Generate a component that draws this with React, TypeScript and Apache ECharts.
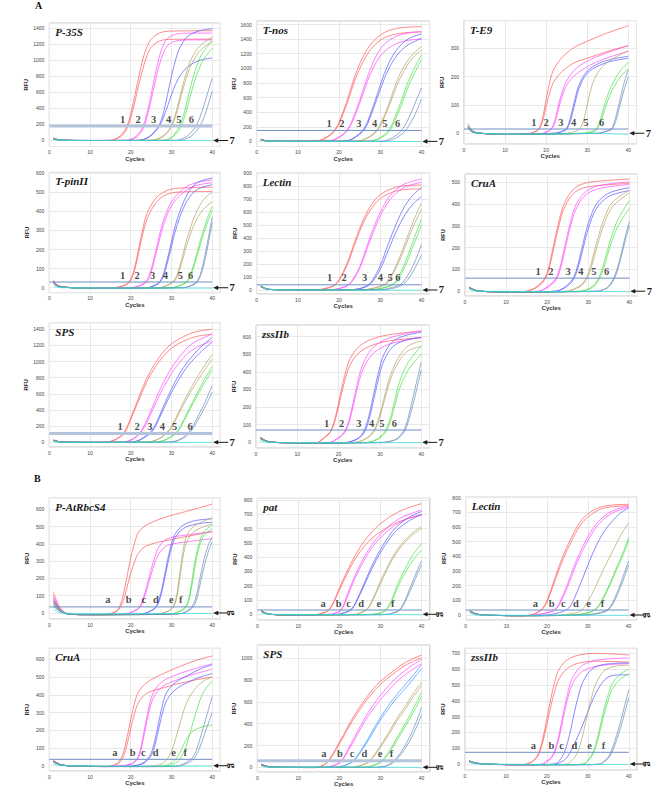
import React, { useEffect, useRef } from "react";
import * as echarts from "echarts";

type Pt = [number, number];
type Curve = Pt[];

// ---------------- DATA ----------------
const NUM_TAGS = ["1", "2", "3", "4", "5", "6", "7"];
const LET_TAGS = ["a", "b", "c", "d", "e", "f", "g"];

const PANEL_TITLES = ["P-35S", "T-nos", "T-E9", "T-pinII", "Lectin", "CruA", "SPS", "zssIIb",
  "P-AtRbcS4", "pat", "Lectin", "CruA", "SPS", "zssIIb"];
const THRESHOLDS = [180, 150, 15, 30, 40, 60, 110, 70, 35, 30, 34, 36, 60, 74];
// axis extents [min, max, step]
const Y_RANGES: [number, number, number][] = [
  [-75, 1466, 200], [-70, 1648, 200], [-38, 398, 100],
  [-26, 605, 100], [-31, 905, 100], [-22, 538, 100],
  [-58, 1482, 200], [-32, 666, 100],
  [-35, 667, 100], [-40, 812, 100], [-34, 807, 100],
  [-30, 663, 100], [-43, 1122, 200], [-38, 732, 100],
];
// cycle where each tag label (1..6 / a..f) sits
const TAG_X = [
  [18.0, 21.8, 25.6, 29.3, 31.8, 34.9],
  [17.6, 20.7, 24.8, 28.6, 31.1, 34.2],
  [17.0, 20.0, 23.6, 26.7, 29.7, 33.5],
  [18.0, 21.6, 25.4, 28.5, 32.2, 34.7],
  [17.7, 21.2, 26.2, 30.0, 32.4, 34.3],
  [17.8, 20.9, 25.1, 28.2, 31.4, 34.5],
  [17.4, 21.6, 24.7, 27.8, 30.8, 34.6],
  [17.1, 20.7, 24.9, 28.0, 30.5, 33.5],
  [14.4, 19.5, 23.2, 26.2, 30.0, 32.3],
  [16.0, 19.8, 22.2, 25.3, 29.6, 33.0],
  [17.1, 21.1, 24.0, 27.1, 30.2, 33.6],
  [16.1, 20.5, 23.1, 26.1, 30.5, 33.4],
  [16.2, 20.1, 23.1, 26.1, 29.9, 32.7],
  [16.7, 21.1, 23.6, 26.7, 30.4, 33.8],
];

// Each panel: groups 1..7 (a..g), each group = replicate curves of [cycle, RFU]
const P35S: Curve[][] = [
  [[[1,30],[3,4],[10,0],[15,2],[17,40],[18,90],[19,170],[20,330],[21,560],[22,800],[23,1020],[24,1170],[25,1260],[27,1340],[30,1365],[40,1370]],
   [[1,25],[3,3],[10,0],[15,2],[17,30],[18,70],[19,140],[20,280],[21,480],[22,700],[23,900],[24,1060],[25,1160],[27,1240],[30,1262],[40,1265]]],
  [[[1,30],[3,4],[10,0],[19,2],[21,40],[22,90],[23,175],[24,340],[25,570],[26,820],[27,1040],[28,1190],[29,1270],[31,1325],[35,1340],[40,1340]],
   [[1,25],[3,3],[10,0],[19,1],[21,30],[22,70],[23,140],[24,290],[25,500],[26,730],[27,940],[28,1090],[29,1180],[31,1240],[35,1255],[40,1255]]],
  [[[1,25],[3,3],[10,0],[22,2],[24,30],[25,70],[26,120],[27,190],[28,340],[29,560],[30,800],[31,1000],[32,1150],[34,1300],[37,1370],[40,1395]],
   [[1,25],[3,3],[10,0],[22,2],[24,30],[25,60],[26,110],[27,175],[28,280],[29,420],[30,570],[31,700],[32,800],[34,920],[37,1000],[40,1030]]],
  [[[1,20],[3,3],[10,0],[25,2],[27,30],[28,60],[29,110],[30,190],[31,330],[32,530],[33,730],[34,900],[35,1030],[37,1180],[40,1290]],
   [[1,20],[3,3],[10,0],[25,2],[27,25],[28,50],[29,95],[30,170],[31,300],[32,480],[33,670],[34,830],[35,960],[37,1120],[40,1240]]],
  [[[1,20],[3,3],[10,0],[28,2],[30,40],[31,100],[32,175],[33,320],[34,520],[35,730],[36,900],[37,1030],[38,1120],[40,1240]],
   [[1,20],[3,3],[10,0],[28,2],[30,30],[31,75],[32,140],[33,260],[34,430],[35,620],[36,790],[37,920],[38,1020],[40,1150]]],
  [[[1,20],[3,3],[10,0],[31,2],[33,30],[34,60],[35,110],[36,175],[37,290],[38,440],[39,610],[40,780]],
   [[1,20],[3,3],[10,0],[32,2],[34,30],[35,60],[36,110],[37,180],[38,290],[39,440],[40,620]]],
  [[[1,10],[3,0],[20,0],[40,-2]]],
];

const TNOS: Curve[][] = [
  [[[1,30],[3,4],[14,2],[16,30],[18,100],[19,160],[20,260],[22,570],[24,920],[26,1180],[28,1350],[31,1490],[35,1555],[40,1570]],
   [[1,28],[3,4],[14,2],[16,25],[18,90],[19,150],[20,240],[22,530],[24,860],[26,1110],[28,1280],[31,1420],[35,1480],[40,1500]]],
  [[[1,28],[3,4],[17,2],[19,30],[21,100],[22,160],[23,260],[25,560],[27,900],[29,1170],[31,1330],[34,1440],[37,1485],[40,1500]],
   [[1,28],[3,4],[17,2],[19,25],[21,90],[22,145],[23,240],[25,520],[27,840],[29,1080],[31,1230],[34,1340],[37,1385],[40,1400]]],
  [[[1,25],[3,3],[21,2],[23,30],[25,110],[26,170],[27,280],[29,600],[31,930],[33,1170],[35,1320],[37,1410],[40,1470]],
   [[1,25],[3,3],[21,2],[23,25],[25,95],[26,150],[27,250],[29,550],[31,860],[33,1090],[35,1240],[37,1330],[40,1410]]],
  [[[1,20],[3,3],[24,2],[26,25],[28,90],[29,145],[30,230],[32,500],[34,820],[36,1050],[38,1200],[40,1300]],
   [[1,20],[3,3],[24,2],[26,20],[28,80],[29,130],[30,210],[32,460],[34,760],[36,990],[38,1150],[40,1250]]],
  [[[1,20],[3,3],[27,2],[29,25],[31,90],[32,150],[33,250],[35,540],[37,850],[39,1080],[40,1180]],
   [[1,20],[3,3],[27,2],[29,20],[31,75],[32,125],[33,215],[35,480],[37,780],[39,1010],[40,1120]]],
  [[[1,20],[3,3],[30,2],[32,25],[34,90],[35,140],[36,220],[37,330],[38,460],[39,600],[40,730]],
   [[1,20],[3,3],[31,2],[33,25],[35,90],[36,140],[37,220],[38,320],[39,440],[40,580]]],
  [[[1,15],[3,0],[40,-2]]],
];

const TE9: Curve[][] = [
  [[[1,30],[2,10],[4,0],[10,-4],[16,-1],[17,5],[18,12],[19,45],[20,120],[21,190],[22,230],[24,270],[27,305],[30,325],[34,350],[40,380]],
   [[1,25],[2,8],[4,0],[10,-4],[16,-1],[17,4],[18,10],[19,35],[20,95],[21,150],[22,185],[24,220],[27,250],[30,265],[34,285],[40,310]]],
  [[[1,25],[2,8],[4,0],[10,-4],[19,-1],[20,5],[21,12],[22,40],[23,100],[24,150],[25,185],[27,225],[30,255],[34,280],[40,310]],
   [[1,20],[2,6],[4,0],[10,-4],[19,-1],[20,4],[21,10],[22,32],[23,85],[24,135],[25,170],[27,205],[30,235],[34,262],[40,290]]],
  [[[1,20],[2,6],[4,0],[10,-4],[22,0],[23,3],[24,8],[25,18],[26,60],[27,120],[28,170],[30,220],[33,248],[36,262],[40,272]],
   [[1,20],[2,6],[4,0],[10,-4],[22,0],[23,2],[24,6],[25,14],[26,48],[27,105],[28,158],[30,212],[33,240],[36,255],[40,265]]],
  [[[1,20],[2,6],[4,0],[10,-4],[25,0],[27,6],[28,13],[29,40],[30,100],[31,160],[32,200],[34,240],[37,270],[40,290]]],
  [[[1,20],[2,6],[4,0],[10,-4],[29,0],[31,6],[32,13],[33,40],[34,90],[35,135],[36,170],[38,220],[40,250]],
   [[1,18],[2,5],[4,0],[10,-4],[29,0],[31,4],[32,9],[33,30],[34,72],[35,115],[36,150],[38,198],[40,228]]],
  [[[1,18],[2,5],[4,0],[10,-4],[33,0],[34,5],[35,10],[36,18],[37,60],[38,120],[39,180],[40,225]],
   [[1,18],[2,5],[4,0],[10,-4],[33,0],[34,4],[35,8],[36,14],[37,45],[38,100],[39,155],[40,200]]],
  [[[1,35],[2,10],[4,0],[15,-3],[25,-2],[32,0],[36,-2],[40,-4]]],
];

const TPINII: Curve[][] = [
  [[[1,40],[2,15],[4,3],[10,-3],[16,0],[18,10],[19,20],[20,45],[21,110],[22,210],[23,310],[24,390],[26,465],[28,500],[31,520],[40,527]],
   [[1,35],[2,12],[4,3],[10,-3],[16,0],[18,8],[19,16],[20,38],[21,95],[22,190],[23,285],[24,360],[26,440],[28,480],[31,500],[40,505]]],
  [[[1,35],[2,12],[4,3],[10,-3],[20,0],[22,10],[23,20],[24,40],[25,95],[26,180],[27,270],[28,350],[30,450],[33,520],[36,550],[40,565]],
   [[1,32],[2,11],[4,3],[10,-3],[20,0],[22,8],[23,16],[24,32],[25,80],[26,160],[27,245],[28,325],[30,430],[33,500],[36,535],[40,550]]],
  [[[1,30],[2,10],[4,2],[10,-3],[24,0],[26,15],[27,28],[28,70],[29,150],[30,240],[31,330],[33,450],[35,525],[37,558],[40,575]],
   [[1,30],[2,10],[4,2],[10,-3],[24,0],[26,12],[27,24],[28,60],[29,130],[30,215],[31,300],[33,420],[35,490],[37,522],[40,540]]],
  [[[1,28],[2,10],[4,2],[10,-3],[27,0],[29,15],[30,25],[31,50],[32,110],[33,190],[34,270],[36,390],[38,465],[40,500]],
   [[1,28],[2,10],[4,2],[10,-3],[27,0],[29,12],[30,22],[31,42],[32,95],[33,165],[34,240],[36,350],[38,415],[40,450]]],
  [[[1,28],[2,10],[4,2],[10,-3],[30,0],[32,12],[33,22],[34,40],[35,90],[36,160],[37,240],[38,310],[39,375],[40,425]],
   [[1,25],[2,9],[4,2],[10,-3],[30,0],[32,10],[33,18],[34,34],[35,80],[36,145],[37,220],[38,290],[39,350],[40,405]]],
  [[[1,25],[2,9],[4,2],[10,-3],[33,0],[35,15],[36,27],[37,65],[38,145],[39,255],[40,370]],
   [[1,25],[2,9],[4,2],[10,-3],[33,0],[35,12],[36,22],[37,55],[38,125],[39,225],[40,340]]],
  [[[1,10],[3,0],[40,-2]]],
];

const LECTIN_A: Curve[][] = [
  [[[1,30],[3,5],[10,0],[15,2],[17,15],[18,25],[19,42],[20,80],[22,210],[24,390],[26,550],[28,665],[30,735],[33,785],[36,805],[40,810]],
   [[1,28],[3,5],[10,0],[15,2],[17,12],[18,22],[19,38],[20,72],[22,195],[24,370],[26,525],[28,635],[30,705],[33,755],[36,775],[40,780]]],
  [[[1,28],[3,5],[10,0],[18,2],[20,12],[21,22],[22,36],[23,65],[25,180],[27,360],[29,530],[31,660],[33,750],[36,820],[40,855]],
   [[1,28],[3,5],[10,0],[18,2],[20,10],[21,19],[22,32],[23,58],[25,165],[27,335],[29,500],[31,630],[33,720],[36,795],[40,830]]],
  [[[1,25],[3,4],[10,0],[23,2],[25,12],[26,22],[27,38],[28,70],[30,190],[32,360],[34,520],[36,650],[38,735],[40,790]],
   [[1,25],[3,4],[10,0],[23,2],[25,10],[26,18],[27,32],[28,58],[30,160],[32,310],[34,460],[36,580],[38,665],[40,720]]],
  [[[1,25],[3,4],[10,0],[26,2],[28,12],[29,20],[30,30],[31,44],[32,75],[34,200],[36,360],[38,530],[40,670]],
   [[1,25],[3,4],[10,0],[26,2],[28,10],[29,17],[30,26],[31,38],[32,65],[34,180],[36,330],[38,490],[40,620]]],
  [[[1,25],[3,4],[10,0],[28,2],[30,12],[31,20],[32,30],[33,45],[34,78],[36,210],[38,380],[40,550]],
   [[1,25],[3,4],[10,0],[28,2],[30,10],[31,17],[32,26],[33,38],[34,65],[36,180],[38,340],[40,500]]],
  [[[1,25],[3,4],[10,0],[30,2],[32,12],[33,20],[34,30],[35,45],[36,80],[37,130],[38,190],[39,265],[40,350]],
   [[1,25],[3,4],[10,0],[31,2],[33,12],[34,20],[35,32],[36,55],[37,95],[38,145],[39,205],[40,270]]],
  [[[1,45],[2,15],[4,3],[10,0],[40,-2]]],
];

const CRUA_A: Curve[][] = [
  [[[1,20],[3,2],[8,-3],[13,-4],[15,0],[17,15],[18,30],[19,48],[20,85],[21,160],[22,250],[23,330],[24,395],[26,460],[28,488],[31,502],[40,515]],
   [[1,18],[3,2],[8,-3],[13,-4],[15,0],[17,12],[18,25],[19,42],[20,75],[21,145],[22,230],[23,310],[24,375],[26,440],[28,468],[31,482],[40,495]]],
  [[[1,18],[3,2],[8,-3],[13,-4],[18,0],[20,20],[21,35],[22,55],[23,100],[24,180],[25,265],[26,340],[27,395],[29,450],[32,482],[40,502]],
   [[1,18],[3,2],[8,-3],[13,-4],[18,0],[20,16],[21,30],[22,48],[23,88],[24,162],[25,245],[26,320],[27,375],[29,435],[32,468],[40,490]]],
  [[[1,15],[3,2],[8,-3],[13,-4],[22,0],[24,15],[25,30],[26,50],[27,90],[28,160],[29,240],[30,310],[32,400],[35,450],[40,475]],
   [[1,15],[3,2],[8,-3],[13,-4],[22,0],[24,12],[25,25],[26,42],[27,78],[28,140],[29,215],[30,285],[32,380],[35,435],[40,462]]],
  [[[1,15],[3,2],[8,-3],[13,-4],[25,0],[27,15],[28,25],[29,45],[30,80],[31,145],[32,220],[34,340],[36,410],[40,462]],
   [[1,15],[3,2],[8,-3],[13,-4],[25,0],[27,12],[28,21],[29,38],[30,68],[31,125],[32,195],[34,315],[36,390],[40,450]]],
  [[[1,15],[3,2],[8,-3],[13,-4],[28,0],[30,10],[31,22],[32,42],[33,80],[34,140],[35,210],[37,320],[40,415]],
   [[1,15],[3,2],[8,-3],[13,-4],[28,0],[30,8],[31,18],[32,35],[33,68],[34,120],[35,185],[37,290],[40,380]]],
  [[[1,15],[3,2],[8,-3],[13,-4],[32,0],[34,10],[35,25],[36,52],[37,100],[38,170],[39,250],[40,320]],
   [[1,15],[3,2],[8,-3],[13,-4],[32,0],[34,8],[35,20],[36,44],[37,88],[38,155],[39,230],[40,300]]],
  [[[1,10],[3,0],[40,-2]]],
];

const SPS_A: Curve[][] = [
  [[[1,30],[3,4],[10,0],[14,2],[16,30],[17,60],[18,95],[19,180],[20,300],[22,560],[24,800],[26,980],[28,1120],[30,1220],[33,1310],[36,1370],[40,1400]],
   [[1,28],[3,4],[10,0],[14,2],[16,25],[17,52],[18,88],[19,165],[20,280],[22,525],[24,755],[26,930],[28,1065],[30,1165],[33,1255],[36,1310],[40,1340]]],
  [[[1,28],[3,4],[10,0],[18,2],[20,30],[21,60],[22,105],[23,180],[24,280],[26,520],[28,740],[30,920],[32,1060],[35,1220],[40,1340]],
   [[1,28],[3,4],[10,0],[18,2],[20,25],[21,52],[22,92],[23,160],[24,250],[26,470],[28,675],[30,850],[32,990],[35,1140],[40,1260]]],
  [[[1,25],[3,4],[10,0],[20,2],[22,25],[23,55],[24,90],[25,135],[26,210],[28,440],[30,660],[32,850],[34,1000],[37,1170],[40,1300]],
   [[1,25],[3,4],[10,0],[20,2],[22,22],[23,48],[24,80],[25,120],[26,190],[28,405],[30,615],[32,795],[34,945],[37,1110],[40,1240]]],
  [[[1,25],[3,4],[10,0],[24,2],[26,25],[27,50],[28,85],[29,130],[30,200],[32,400],[34,600],[36,780],[38,940],[40,1090]],
   [[1,25],[3,4],[10,0],[24,2],[26,22],[27,44],[28,76],[29,118],[30,182],[32,370],[34,560],[36,730],[38,885],[40,1030]]],
  [[[1,22],[3,3],[10,0],[26,2],[28,22],[29,45],[30,75],[31,115],[32,180],[34,380],[36,580],[38,770],[40,940]],
   [[1,22],[3,3],[10,0],[26,2],[28,20],[29,40],[30,68],[31,104],[32,165],[34,355],[36,545],[38,725],[40,895]]],
  [[[1,22],[3,3],[10,0],[29,2],[31,15],[32,35],[33,65],[34,110],[35,180],[36,270],[37,370],[38,470],[39,585],[40,700]],
   [[1,22],[3,3],[10,0],[29,2],[31,12],[32,30],[33,55],[34,92],[35,150],[36,230],[37,320],[38,415],[39,515],[40,620]]],
  [[[1,10],[3,0],[40,0]]],
];

const ZSSIIB_A: Curve[][] = [
  [[[1,30],[3,5],[8,-3],[13,-5],[15,0],[16,18],[17,38],[18,62],[19,125],[20,225],[21,335],[22,425],[23,485],[25,545],[28,585],[32,610],[40,632]],
   [[1,28],[3,5],[8,-3],[13,-5],[15,0],[16,15],[17,33],[18,56],[19,112],[20,205],[21,305],[22,390],[23,450],[25,510],[28,550],[32,575],[40,595]]],
  [[[1,28],[3,5],[8,-3],[13,-5],[18,0],[19,12],[20,28],[21,48],[22,88],[23,170],[24,280],[25,380],[26,450],[28,530],[31,580],[35,610],[40,632]],
   [[1,28],[3,5],[8,-3],[13,-5],[18,0],[19,10],[20,24],[21,42],[22,78],[23,152],[24,255],[25,350],[26,418],[28,495],[31,545],[35,575],[40,595]]],
  [[[1,25],[3,4],[8,-3],[13,-5],[22,0],[24,15],[25,30],[26,58],[27,120],[28,220],[29,330],[30,430],[31,500],[33,570],[36,605],[40,625]],
   [[1,25],[3,4],[8,-3],[13,-5],[22,0],[24,12],[25,25],[26,48],[27,100],[28,190],[29,295],[30,395],[31,465],[33,540],[36,578],[40,595]]],
  [[[1,25],[3,4],[8,-3],[13,-5],[24,0],[26,15],[27,30],[28,50],[29,90],[30,160],[31,250],[32,340],[33,410],[35,500],[37,550],[40,575]],
   [[1,25],[3,4],[8,-3],[13,-5],[24,0],[26,12],[27,26],[28,44],[29,80],[30,145],[31,230],[32,315],[33,385],[35,475],[37,522],[40,545]]],
  [[[1,22],[3,4],[8,-3],[13,-5],[27,0],[29,15],[30,30],[31,55],[32,100],[33,180],[34,280],[35,360],[37,460],[40,545]],
   [[1,22],[3,4],[8,-3],[13,-5],[27,0],[29,12],[30,25],[31,46],[32,85],[33,155],[34,245],[35,320],[37,415],[40,500]]],
  [[[1,22],[3,4],[8,-3],[13,-5],[31,0],[33,10],[34,20],[35,42],[36,78],[37,155],[38,255],[39,355],[40,455]],
   [[1,22],[3,4],[8,-3],[13,-5],[31,0],[33,8],[34,16],[35,34],[36,64],[37,128],[38,215],[39,310],[40,410]]],
  [[[1,10],[3,0],[40,-2]]],
];

const P_ATRBCS4: Curve[][] = [
  [[[1,120],[2,60],[3,20],[5,-8],[10,-10],[14,-8],[16,5],[17,25],[18,90],[19,200],[20,320],[21,410],[22,470],[24,510],[28,550],[34,590],[40,630]],
   [[1,80],[2,40],[3,12],[5,-8],[10,-10],[14,-8],[16,2],[17,18],[18,60],[19,140],[20,230],[21,300],[22,350],[24,390],[30,425],[40,470]]],
  [[[1,100],[2,50],[3,15],[5,-8],[10,-10],[18,-8],[20,2],[21,15],[22,30],[23,80],[24,160],[25,250],[26,330],[27,385],[29,430],[34,452],[40,470]],
   [[1,90],[2,45],[3,14],[5,-8],[10,-10],[18,-8],[20,0],[21,12],[22,26],[23,68],[24,140],[25,220],[26,295],[27,345],[29,390],[34,412],[40,430]]],
  [[[1,70],[2,35],[3,10],[5,-8],[10,-10],[22,-8],[24,2],[25,15],[26,30],[27,80],[28,180],[29,300],[30,400],[31,460],[33,510],[36,535],[40,545]],
   [[1,70],[2,35],[3,10],[5,-8],[10,-10],[22,-8],[24,0],[25,12],[26,26],[27,68],[28,160],[29,275],[30,375],[31,438],[33,490],[36,514],[40,525]]],
  [[[1,60],[2,30],[3,8],[5,-8],[10,-10],[26,-8],[28,0],[29,10],[30,25],[31,70],[32,220],[33,380],[34,460],[36,510],[40,550]],
   [[1,60],[2,30],[3,8],[5,-8],[10,-10],[26,-8],[28,0],[29,8],[30,22],[31,60],[32,190],[33,345],[34,425],[36,478],[40,515]]],
  [[[1,50],[2,25],[3,8],[5,-8],[10,-10],[29,-8],[31,0],[32,10],[33,25],[34,60],[35,180],[36,330],[37,420],[38,470],[40,510]],
   [[1,50],[2,25],[3,8],[5,-8],[10,-10],[29,-8],[31,0],[32,8],[33,20],[34,50],[35,155],[36,300],[37,395],[38,448],[40,490]]],
  [[[1,40],[2,20],[3,6],[5,-8],[10,-10],[30,-8],[33,0],[34,15],[35,35],[36,90],[37,200],[38,310],[39,390],[40,440]],
   [[1,40],[2,20],[3,6],[5,-8],[10,-10],[31,-8],[33,0],[34,10],[35,25],[36,65],[37,160],[38,265],[39,350],[40,410]]],
  [[[1,20],[3,0],[10,-3],[40,-3]]],
];

const PAT: Curve[][] = [
  [[[1,25],[3,0],[8,-5],[14,-3],[16,10],[17,22],[18,55],[19,115],[20,185],[22,310],[24,420],[26,510],[28,580],[30,635],[33,695],[36,738],[40,775]],
   [[1,25],[3,0],[8,-5],[14,-3],[16,8],[17,20],[18,50],[19,105],[20,170],[22,290],[24,395],[26,475],[28,535],[30,578],[33,628],[36,665],[40,695]]],
  [[[1,25],[3,0],[8,-5],[14,-3],[18,0],[19,10],[20,22],[21,65],[22,145],[24,285],[26,400],[28,490],[30,560],[33,640],[36,690],[40,730]],
   [[1,25],[3,0],[8,-5],[14,-3],[18,0],[19,8],[20,18],[21,55],[22,128],[24,265],[26,378],[28,468],[30,538],[33,612],[36,662],[40,700]]],
  [[[1,22],[3,0],[8,-5],[16,-3],[20,0],[21,10],[22,20],[23,40],[24,85],[26,215],[28,345],[30,455],[32,545],[34,615],[37,680],[40,720]],
   [[1,22],[3,0],[8,-5],[16,-3],[20,0],[21,8],[22,18],[23,36],[24,78],[26,200],[28,325],[30,432],[32,520],[34,590],[37,655],[40,698]]],
  [[[1,22],[3,0],[8,-5],[20,-3],[24,0],[25,10],[26,22],[27,45],[28,100],[30,230],[32,350],[34,450],[36,520],[38,575],[40,615]],
   [[1,22],[3,0],[8,-5],[20,-3],[24,0],[25,8],[26,19],[27,40],[28,90],[30,215],[32,335],[34,435],[36,505],[38,560],[40,600]]],
  [[[1,20],[3,0],[8,-5],[25,-3],[28,0],[30,10],[31,25],[32,60],[33,120],[34,200],[36,320],[38,420],[40,495]],
   [[1,20],[3,0],[8,-5],[25,-3],[28,0],[30,8],[31,20],[32,50],[33,104],[34,178],[36,290],[38,383],[40,450]]],
  [[[1,20],[3,0],[8,-5],[28,-3],[32,0],[33,10],[34,20],[35,45],[36,100],[37,170],[38,240],[39,310],[40,375]],
   [[1,20],[3,0],[8,-5],[28,-3],[32,0],[33,8],[34,16],[35,38],[36,86],[37,150],[38,215],[39,282],[40,345]]],
  [[[1,10],[3,0],[40,-3]]],
];

const LECTIN_B: Curve[][] = [
  [[[1,30],[3,5],[8,-3],[14,-5],[16,0],[17,10],[18,25],[19,50],[20,100],[22,260],[24,410],[26,530],[28,630],[30,690],[33,735],[36,750],[40,755]],
   [[1,28],[3,5],[8,-3],[14,-5],[16,0],[17,8],[18,22],[19,44],[20,90],[22,240],[24,385],[26,505],[28,605],[30,668],[33,720],[36,738],[40,745]]],
  [[[1,28],[3,5],[8,-3],[14,-5],[17,0],[19,10],[21,25],[22,40],[23,80],[25,210],[27,360],[29,480],[31,580],[33,650],[36,710],[40,745]],
   [[1,28],[3,5],[8,-3],[14,-5],[17,0],[19,8],[21,22],[22,35],[23,70],[25,190],[27,335],[29,455],[31,555],[33,630],[36,695],[40,735]]],
  [[[1,25],[3,4],[8,-3],[14,-5],[20,0],[22,10],[24,25],[25,40],[26,75],[28,200],[30,340],[32,470],[34,570],[36,640],[38,695],[40,730]]],
  [[[1,25],[3,4],[8,-3],[14,-5],[23,0],[26,10],[28,25],[29,50],[30,90],[32,200],[34,320],[36,430],[38,540],[40,630]]],
  [[[1,25],[3,4],[8,-3],[14,-5],[26,0],[29,10],[31,25],[32,45],[33,80],[35,190],[37,320],[39,450],[40,530]],
   [[1,25],[3,4],[8,-3],[14,-5],[26,0],[29,8],[31,22],[32,40],[33,72],[35,178],[37,305],[39,432],[40,510]]],
  [[[1,25],[3,4],[8,-3],[14,-5],[29,0],[32,10],[34,25],[35,40],[36,80],[37,140],[38,210],[39,290],[40,370]],
   [[1,25],[3,4],[8,-3],[14,-5],[29,0],[32,8],[34,20],[35,34],[36,68],[37,122],[38,188],[39,262],[40,340]]],
  [[[1,10],[3,0],[40,-2]]],
];

const CRUA_B: Curve[][] = [
  [[[1,30],[3,5],[8,-3],[14,-5],[16,5],[17,20],[18,60],[19,150],[20,260],[21,360],[22,420],[24,470],[28,520],[32,560],[36,595],[40,620]],
   [[1,28],[3,5],[8,-3],[14,-5],[16,3],[17,12],[18,42],[19,110],[20,210],[21,300],[22,360],[24,410],[28,440],[32,465],[36,485],[40,500]]],
  [[[1,25],[3,4],[8,-3],[14,-5],[18,0],[20,10],[21,25],[22,60],[23,160],[24,280],[25,380],[26,430],[28,480],[32,520],[36,550],[40,575]],
   [[1,25],[3,4],[8,-3],[14,-5],[18,0],[20,8],[21,20],[22,50],[23,140],[24,255],[25,350],[26,400],[28,450],[32,490],[36,520],[40,545]]],
  [[[1,25],[3,4],[8,-3],[16,-5],[21,0],[23,15],[24,35],[25,70],[26,150],[27,260],[28,360],[29,420],[31,470],[34,510],[37,545],[40,570]],
   [[1,25],[3,4],[8,-3],[16,-5],[21,0],[23,12],[24,28],[25,55],[26,120],[27,220],[28,315],[29,375],[31,430],[34,470],[37,500],[40,520]]],
  [[[1,22],[3,4],[8,-3],[20,-5],[26,0],[28,15],[29,40],[30,80],[31,150],[32,230],[33,310],[34,370],[36,440],[38,480],[40,500]]],
  [[[1,22],[3,4],[8,-3],[24,-5],[28,0],[30,15],[31,35],[32,70],[33,120],[34,160],[35,190],[37,215],[40,230]],
   [[1,22],[3,4],[8,-3],[24,-5],[29,0],[31,15],[32,35],[33,75],[34,140],[35,220],[36,300],[37,370],[38,420],[40,480]]],
  [[[1,22],[3,4],[8,-3],[28,-5],[32,0],[33,10],[34,25],[35,40],[36,80],[37,150],[38,230],[39,310],[40,390]],
   [[1,22],[3,4],[8,-3],[28,-5],[32,0],[34,15],[35,28],[36,55],[37,105],[38,170],[39,235],[40,300]]],
  [[[1,10],[3,0],[40,-3]]],
];

const SPS_B: Curve[][] = [
  [[[1,30],[3,5],[8,0],[14,-3],[16,20],[17,50],[18,100],[20,230],[22,370],[24,500],[26,610],[28,710],[30,790],[33,880],[36,960],[40,1030]],
   [[1,28],[3,5],[8,0],[14,-3],[16,16],[17,44],[18,90],[20,215],[22,350],[24,475],[26,585],[28,680],[30,760],[33,855],[36,935],[40,1005]]],
  [[[1,28],[3,5],[8,0],[16,-2],[18,10],[19,25],[20,45],[21,90],[22,160],[24,300],[26,440],[28,560],[30,660],[33,790],[36,890],[40,990]],
   [[1,28],[3,5],[8,0],[16,-2],[18,8],[19,20],[20,38],[21,78],[22,142],[24,275],[26,410],[28,525],[30,620],[33,750],[36,850],[40,950]]],
  [[[1,25],[3,4],[8,0],[19,0],[21,15],[22,30],[23,50],[24,90],[26,200],[28,330],[30,460],[32,570],[34,670],[37,800],[40,940]],
   [[1,25],[3,4],[8,0],[19,0],[21,12],[22,26],[23,44],[24,80],[26,185],[28,310],[30,435],[32,540],[34,638],[37,765],[40,905]]],
  [[[1,22],[3,4],[8,0],[23,0],[25,15],[26,30],[27,50],[28,90],[30,200],[32,320],[34,450],[36,560],[38,680],[40,780]],
   [[1,22],[3,4],[8,0],[23,0],[25,12],[26,26],[27,44],[28,80],[30,185],[32,300],[34,425],[36,532],[38,648],[40,750]]],
  [[[1,22],[3,4],[8,0],[26,0],[28,15],[29,30],[30,50],[31,90],[32,140],[34,270],[36,400],[38,540],[40,690]],
   [[1,22],[3,4],[8,0],[26,0],[28,12],[29,26],[30,44],[31,80],[32,126],[34,248],[36,372],[38,505],[40,650]]],
  [[[1,20],[3,4],[8,0],[29,0],[31,10],[32,25],[33,50],[34,90],[35,140],[36,200],[38,350],[40,550]],
   [[1,20],[3,4],[8,0],[29,0],[31,8],[32,20],[33,42],[34,76],[35,120],[36,172],[38,305],[40,480]]],
  [[[1,10],[3,0],[36,0],[40,-5]]],
];

const ZSSIIB_B: Curve[][] = [
  [[[1,20],[3,5],[8,-3],[14,-5],[16,10],[17,30],[18,70],[19,160],[20,290],[21,420],[22,530],[23,600],[25,660],[28,690],[32,700],[40,690]],
   [[1,20],[3,5],[8,-3],[14,-5],[16,8],[17,25],[18,60],[19,140],[20,250],[21,370],[22,470],[23,540],[25,605],[28,640],[32,650],[40,645]]],
  [[[1,20],[3,4],[8,-3],[16,-5],[19,0],[20,20],[21,40],[22,90],[23,190],[24,320],[25,440],[26,530],[28,610],[31,650],[35,665],[40,670]],
   [[1,20],[3,4],[8,-3],[16,-5],[19,0],[20,16],[21,34],[22,78],[23,168],[24,290],[25,405],[26,492],[28,572],[31,612],[35,628],[40,635]]],
  [[[1,18],[3,4],[8,-3],[18,-5],[22,0],[23,20],[24,60],[25,130],[26,240],[27,360],[28,460],[29,530],[31,600],[34,630],[40,640]],
   [[1,18],[3,4],[8,-3],[18,-5],[22,0],[24,20],[25,45],[26,90],[28,200],[30,330],[32,450],[34,530],[36,560],[40,565]]],
  [[[1,18],[3,4],[8,-3],[22,-5],[25,0],[26,20],[27,50],[28,110],[29,210],[30,330],[31,430],[32,510],[34,590],[37,620],[40,625]]],
  [[[1,18],[3,4],[8,-3],[25,-5],[29,0],[30,25],[31,60],[32,130],[33,240],[34,350],[35,440],[36,510],[38,570],[40,600]],
   [[1,18],[3,4],[8,-3],[25,-5],[29,0],[30,20],[31,50],[32,112],[33,212],[34,318],[35,405],[36,475],[38,538],[40,570]]],
  [[[1,18],[3,4],[8,-3],[28,-5],[33,0],[34,20],[35,45],[36,100],[37,180],[38,270],[39,370],[40,470]],
   [[1,18],[3,4],[8,-3],[28,-5],[33,0],[34,15],[35,35],[36,80],[37,150],[38,230],[39,325],[40,420]]],
  [[[1,10],[3,0],[40,-3]]],
];

const PANEL_CURVES = [P35S, TNOS, TE9, TPINII, LECTIN_A, CRUA_A, SPS_A, ZSSIIB_A,
  P_ATRBCS4, PAT, LECTIN_B, CRUA_B, SPS_B, ZSSIIB_B];

// ---------------- LAYOUT / STYLE ----------------
// [left, top, bottom, width] of each plot frame in px
const FRAMES: [number, number, number, number][] = [
  [49.3, 23, 146.5, 171], [256.7, 21, 146.5, 173], [464, 20.7, 144, 172.5],
  [49.3, 172.3, 292.7, 171], [256.7, 172.7, 294, 173], [465, 174, 296, 172.5],
  [49.3, 322.7, 447, 171], [256, 325, 448, 173.5],
  [49.3, 497.7, 619, 171], [257.3, 498.3, 620, 172.5], [465.7, 496.7, 620, 171],
  [49.3, 648.3, 771, 171], [257.3, 645, 772, 172.5], [465, 648.3, 770, 172],
];
const THICK_THRESHOLD = [true, false, false, false, false, false, true, false, false, false, false, false, true, false];
const GROUP_COLORS = ["#ff5c5c", "#ff4cff", "#5a5aff", "#b3a468", "#4ee04e", "#6d8dbd", "#30dede"];
const SPS_B_C_COLOR = "#3f9bff";
const SERIF = "'Liberation Serif', 'Times New Roman', serif";
const SANS = "'Liberation Sans', Arial, sans-serif";

function buildOption() {
  const grid: any[] = [];
  const xAxis: any[] = [];
  const yAxis: any[] = [];
  const series: any[] = [];
  const title: any[] = [
    { text: "A", left: 35, top: 0, padding: 0, textStyle: { fontFamily: SERIF, fontWeight: "bold", fontSize: 10, color: "#111" } },
    { text: "B", left: 34, top: 473, padding: 0, textStyle: { fontFamily: SERIF, fontWeight: "bold", fontSize: 10, color: "#111" } },
  ];
  const graphic: any[] = [];

  PANEL_CURVES.forEach((groups, i) => {
    const [left, top, bottom, width] = FRAMES[i];
    const height = bottom - top;
    const [yMin, yMax, step] = Y_RANGES[i];
    const isB = i >= 8;
    const tags = isB ? LET_TAGS : NUM_TAGS;
    const thr = THRESHOLDS[i];

    grid.push({
      left, top, width, height, show: true, borderColor: "#c2c2c2", borderWidth: 1,
      backgroundColor: "#fff", containLabel: false, outerBoundsMode: "none",
    });
    xAxis.push({
      type: "value", gridIndex: i, min: 0, max: 42, interval: 10,
      name: "Cycles", nameLocation: "middle", nameGap: 9,
      nameTextStyle: { fontSize: 6, fontWeight: "bold", color: "#333", fontFamily: SANS },
      axisLine: { show: false, onZero: false }, axisTick: { show: false },
      axisLabel: { fontSize: 5, color: "#444", margin: 3, showMaxLabel: false, fontFamily: SANS },
      splitLine: { show: true, lineStyle: { color: "#e9e9e9", width: 1 } },
    });
    yAxis.push({
      type: "value", gridIndex: i, min: yMin, max: yMax, minInterval: step, maxInterval: step, splitNumber: 6,
      name: "RFU", nameLocation: "middle", nameGap: 19, nameRotate: 90,
      nameTextStyle: { fontSize: 5.5, fontWeight: "bold", color: "#333", fontFamily: SANS },
      axisLine: { show: false }, axisTick: { show: false },
      axisLabel: {
        fontSize: 5, color: "#444", margin: 5, showMinLabel: false, showMaxLabel: false, fontFamily: SANS,
        formatter: (v: number) => (Math.abs(v % step) < 1e-6 ? String(v) : ""),
      },
      splitLine: { show: true, lineStyle: { color: "#e9e9e9", width: 1 } },
    });

    // curves
    groups.forEach((reps, g) => {
      let color = GROUP_COLORS[g];
      if (i === 12 && g === 2) color = SPS_B_C_COLOR;
      reps.forEach((curve) => {
        series.push({
          type: "line", xAxisIndex: i, yAxisIndex: i, data: curve,
          smooth: 0.35, showSymbol: false, symbol: "none", silent: true,
          lineStyle: { color, width: 0.9, opacity: 0.8 }, z: g === 6 ? 4 : 2,
        });
      });
    });

    // threshold line
    const thick = THICK_THRESHOLD[i];
    series.push({
      type: "line", xAxisIndex: i, yAxisIndex: i, data: [[0, thr], [40, thr]],
      showSymbol: false, symbol: "none", silent: true,
      lineStyle: { color: thick ? "#b3c4dc" : "#6f8fc3", width: thick ? 3 : 1 }, z: 3,
    });

    // tag labels
    series.push({
      type: "scatter", xAxisIndex: i, yAxisIndex: i, silent: true, symbolSize: 1,
      itemStyle: { color: "rgba(0,0,0,0)" },
      data: TAG_X[i].map((x, k) => ({ value: [x, thr], name: tags[k] })),
      label: {
        show: true, position: "top", distance: 1, formatter: "{b}",
        fontFamily: SERIF, fontWeight: "bold", fontSize: 10.5, color: "#1a1a1a",
      },
      labelLayout: { hideOverlap: false },
      z: 5,
    });

    // title
    title.push({
      text: PANEL_TITLES[i], left: left + 6, top: top + 3.5, padding: 0,
      textStyle: { fontFamily: SERIF, fontStyle: "italic", fontWeight: "bold", fontSize: 11, color: "#1a1a1a" },
    });

    // arrow + negative-control tag at y = 0
    const y0 = top + ((yMax - 0) / (yMax - yMin)) * height;
    const xTip = left + (width * 40) / 42 + 1;
    graphic.push({
      type: "polygon", silent: true,
      shape: { points: [[xTip, y0], [xTip + 5, y0 - 2.3], [xTip + 5, y0 + 2.3]] },
      style: { fill: "#1a1a1a" }, z: 10,
    });
    graphic.push({
      type: "line", silent: true,
      shape: { x1: xTip + 4, y1: y0, x2: xTip + 15, y2: y0 },
      style: { stroke: "#1a1a1a", lineWidth: 1 }, z: 10,
    });
    graphic.push({
      type: "text", silent: true, x: xTip + 19, y: y0,
      rotation: isB ? -Math.PI / 2 : 0,
      style: {
        text: tags[6], font: `bold 10.5px ${SERIF}`, fill: "#1a1a1a",
        align: "center", verticalAlign: "middle",
      },
      z: 10,
    });
  });

  return {
    animation: false,
    backgroundColor: "#ffffff",
    title, grid, xAxis, yAxis, series, graphic,
  };
}

export default function App() {
  const ref = useRef<HTMLDivElement>(null);
  useEffect(() => {
    if (!ref.current) return;
    const chart = echarts.init(ref.current, undefined, { renderer: "svg" });
    chart.setOption(buildOption() as any);
    return () => chart.dispose();
  }, []);
  return (
    <div
      ref={ref}
      style={{ position: "fixed", left: 0, top: 0, width: 669, height: 793, background: "#fff" }}
    />
  );
}
